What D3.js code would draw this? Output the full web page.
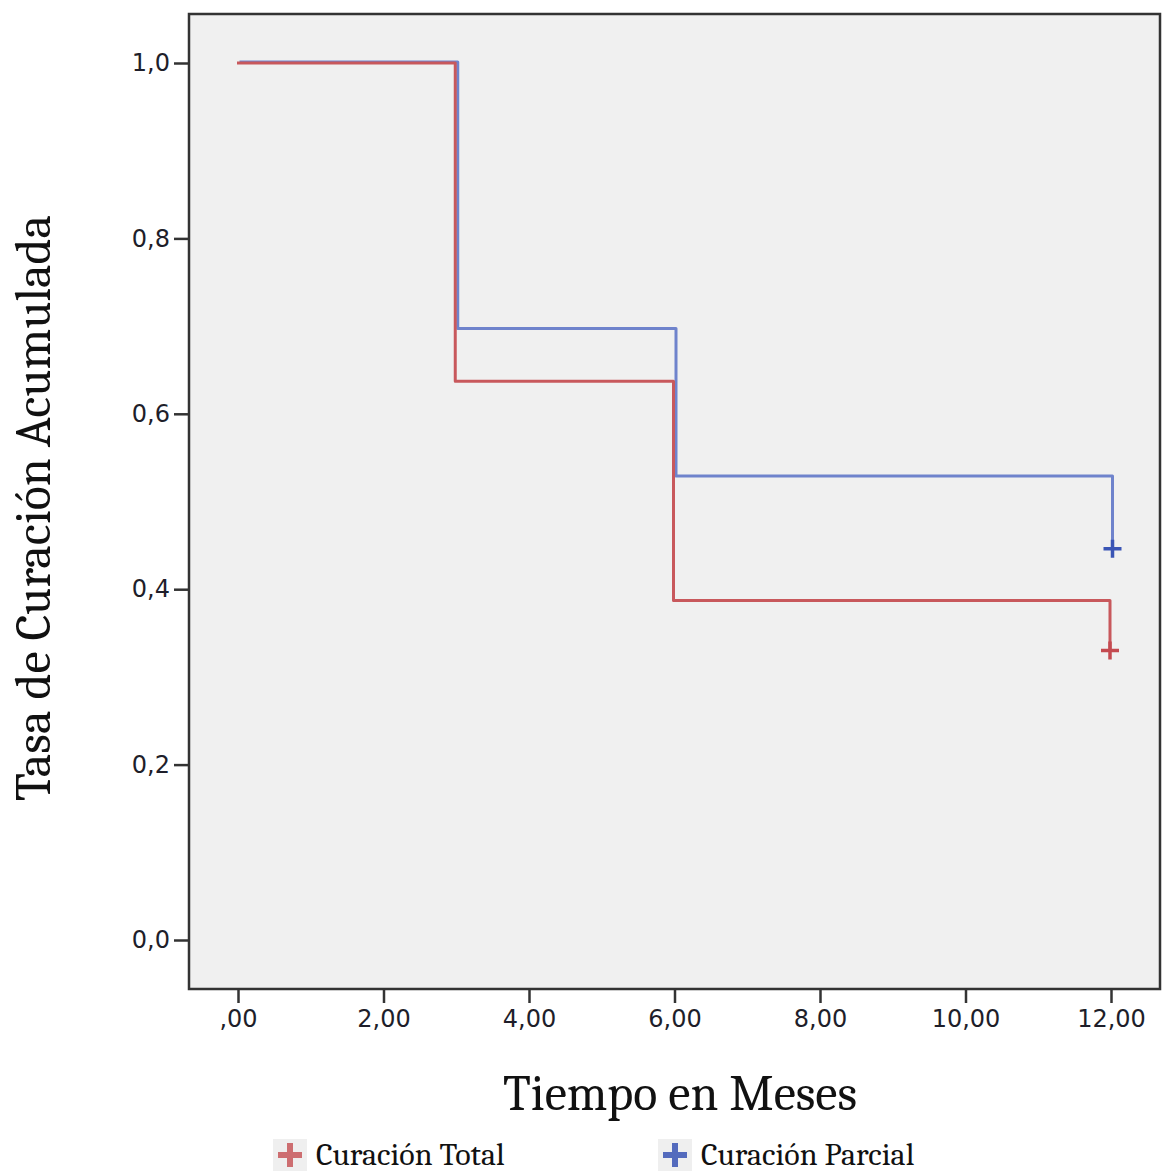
<!DOCTYPE html>
<html>
<head>
<meta charset="utf-8">
<script src="https://cdn.jsdelivr.net/npm/d3@7"></script>
<style>
  body { margin: 0; background: #fff; }
  svg { display: block; }
</style>
</head>
<body>
<div id="chart"></div>
<script>
// survival steps (time in months, cumulative rate)
var totalTimes = [0, 3, 6, 12];
var totalRates = [1.0, 0.637, 0.387, 0.330];
var parcialTimes = [0, 3, 6, 12];
var parcialRates = [1.0, 0.696, 0.528, 0.445];
var censorTime = 12;
var xTicks = [0, 2, 4, 6, 8, 10, 12];
var yTicks = [0, 0.2, 0.4, 0.6, 0.8, 1.0];
var seriesNames = ["Curación Total", "Curación Parcial"];

var width = 1162, height = 1176;
var frame = { left: 189, top: 14, right: 1160, bottom: 989 };

var svg = d3.select("#chart").append("svg")
  .attr("width", width).attr("height", height);

var x = d3.scaleLinear().domain([0, 12]).range([238, 1111]);
var y = d3.scaleLinear().domain([0, 1]).range([940, 63]);

// plot background + frame
svg.append("rect")
  .attr("x", frame.left).attr("y", frame.top)
  .attr("width", frame.right - frame.left).attr("height", frame.bottom - frame.top)
  .attr("fill", "#f0f0f0").attr("stroke", "#333").attr("stroke-width", 2.5);

function comma(v, d) {
  var s = v.toFixed(d).replace(".", ",");
  if (s.indexOf("0,") === 0) s = s.slice(1);
  return s;
}

// y axis
var yAxis = svg.append("g")
  .attr("transform", "translate(" + frame.left + ",0)")
  .call(d3.axisLeft(y).tickValues(yTicks).tickSize(15).tickPadding(4)
    .tickFormat(function (d) { return d.toFixed(1).replace(".", ","); }));
// x axis
var xAxis = svg.append("g")
  .attr("transform", "translate(0," + frame.bottom + ")")
  .call(d3.axisBottom(x).tickValues(xTicks).tickSize(14).tickPadding(7)
    .tickFormat(function (d) { return comma(d, 2); }));

[yAxis, xAxis].forEach(function (g) {
  g.select(".domain").remove();
  g.selectAll(".tick line").attr("stroke", "#333").attr("stroke-width", 2.5);
  g.selectAll(".tick text")
    .attr("fill", "#1e1e2a")
    .style("font-family", "Verdana, 'DejaVu Sans', sans-serif")
    .style("font-size", "24px");
});

function stepPoints(times, rates) {
  var pts = [];
  for (var i = 0; i < times.length; i++) {
    if (i > 0) pts.push([times[i], rates[i - 1]]);
    pts.push([times[i], rates[i]]);
  }
  return pts;
}

var line = d3.line()
  .x(function (d) { return x(d[0]); })
  .y(function (d) { return y(d[1]); });

var series = [
  { times: parcialTimes, rates: parcialRates, color: "#6f83cc", mark: "#3a55b5", dx: 1.5, dy: -1 },
  { times: totalTimes, rates: totalRates, color: "#c8585c", mark: "#c44a50", dx: -1, dy: 0 }
];

series.forEach(function (s) {
  var g = svg.append("g").attr("transform", "translate(" + s.dx + "," + s.dy + ")");
  g.append("path")
    .attr("d", line(stepPoints(s.times, s.rates)))
    .attr("fill", "none")
    .attr("stroke", s.color)
    .attr("stroke-width", 3)
    .attr("stroke-linejoin", "round");
  var cx = x(censorTime), cy = y(s.rates[s.rates.length - 1]);
  g.append("path")
    .attr("d", "M" + (cx - 9) + "," + cy + "H" + (cx + 9) + "M" + cx + "," + (cy - 9) + "V" + (cy + 9))
    .attr("stroke", s.mark).attr("stroke-width", 3.5);
});

// axis titles
svg.append("text")
  .attr("x", 680).attr("y", 1110)
  .attr("text-anchor", "middle")
  .style("font-family", "Cambria, 'DejaVu Serif', serif")
  .style("font-size", "50px")
  .attr("fill", "#111")
  .text("Tiempo en Meses");

svg.append("text")
  .attr("transform", "translate(50,508) rotate(-90)")
  .attr("text-anchor", "middle")
  .style("font-family", "Cambria, 'DejaVu Serif', serif")
  .style("font-size", "50px")
  .attr("fill", "#111")
  .text("Tasa de Curación Acumulada");

// legend
var legendX = [290, 675];
var legendColors = [series[1].color, series[0].mark];
seriesNames.forEach(function (name, i) {
  var g = svg.append("g").attr("transform", "translate(" + legendX[i] + ",1155)");
  g.append("rect").attr("x", -17).attr("y", -16).attr("width", 34).attr("height", 32)
    .attr("fill", "#efefef");
  g.append("path")
    .attr("d", "M-12,0H12M0,-12V12")
    .attr("stroke", legendColors[i]).attr("stroke-width", 6).attr("opacity", 0.85);
  g.append("text")
    .attr("x", 26).attr("y", 10)
    .style("font-family", "Cambria, 'DejaVu Serif', serif")
    .style("font-size", "32px")
    .attr("fill", "#111")
    .text(name);
});
</script>
</body>
</html>
